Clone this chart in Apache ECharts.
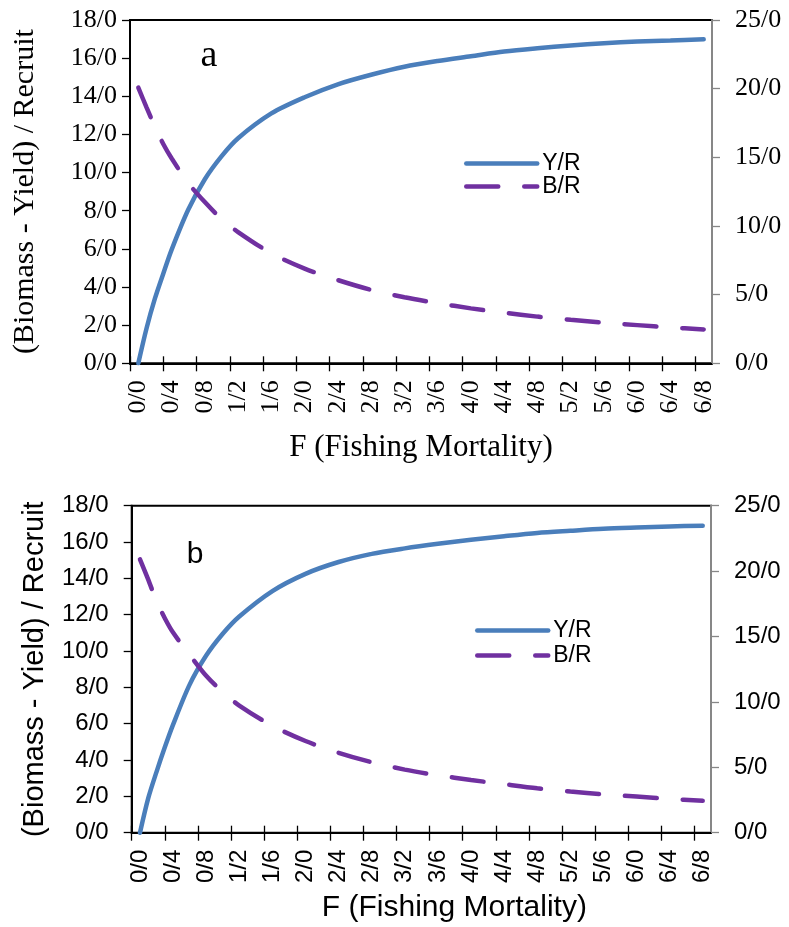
<!DOCTYPE html>
<html><head><meta charset="utf-8">
<script src="https://cdn.jsdelivr.net/npm/echarts@6/dist/echarts.min.js"></script>
<style>html,body{margin:0;padding:0;background:#fff}#c{width:789px;height:927px}</style>
</head><body><div id="c"></div>
<script>
// ---- data ----
const F = [0,0.1,0.2,0.3,0.4,0.6,0.8,1.0,1.2,1.6,2.0,2.4,2.8,3.2,3.6,4.0,4.4,4.8,5.2,5.6,6.0,6.4,6.8];
// panel a
const yieldA   = [0,1.85,3.4,4.7,5.95,8.05,9.65,10.85,11.8,13.1,13.95,14.63,15.13,15.55,15.85,16.1,16.35,16.52,16.66,16.78,16.87,16.93,16.99];
const biomassA = [20.07,18.62,17.22,15.97,14.93,13.13,11.74,10.51,9.56,8.01,6.9,6.06,5.35,4.81,4.38,4.0,3.68,3.4,3.17,2.96,2.78,2.61,2.47];
// panel b
const yieldB   = [0,1.9,3.35,4.7,5.95,8.15,9.75,10.95,11.9,13.3,14.25,14.9,15.35,15.65,15.9,16.12,16.32,16.5,16.62,16.73,16.8,16.86,16.9];
const biomassB = [20.9,19.35,17.7,16.4,15.3,13.6,12.0,10.75,9.72,8.17,7.01,6.11,5.39,4.82,4.39,4.03,3.71,3.4,3.15,2.93,2.76,2.58,2.44];
// tick labels
const xTickValues = [0,0.4,0.8,1.2,1.6,2.0,2.4,2.8,3.2,3.6,4.0,4.4,4.8,5.2,5.6,6.0,6.4,6.8];
const xTickLabels = ['0/0','0/4','0/8','1/2','1/6','2/0','2/4','2/8','3/2','3/6','4/0','4/4','4/8','5/2','5/6','6/0','6/4','6/8'];
const leftLabels  = ['0/0','2/0','4/0','6/0','8/0','10/0','12/0','14/0','16/0','18/0'];
const rightLabels = ['0/0','5/0','10/0','15/0','20/0','25/0'];
const seriesNames = ['Y/R','B/R'];
const panelLetters = ['a','b'];
const xTitle = 'F (Fishing Mortality)';
const yTitle = '(Biomass - Yield) / Recruit';

// ---- layout / style ----
const SERIF = "'Liberation Serif','Times New Roman',serif";
const SANS  = "'Liberation Sans',Arial,sans-serif";
const BLUE = '#4a7ebb', PURPLE = '#7030a0', GRAY = '#878787';
const tickShift = 0.1; // ticks sit between data positions
const tickVals = xTickValues.map(v => +(v - tickShift).toFixed(3));

const panels = [
  {grid:{left:130, top:20, width:582, height:343.3}, font:SERIF, tick:26, xt:31, yt:30,
   yGap:90, xGap:69, xPad:0, lm:13, rm:23, legTop:147, legLeft:459, legGap:0,
   letter:{x:209, y:56, size:38}, yr:yieldA, br:biomassA},
  {grid:{left:131.7, top:505.7, width:579.3, height:327}, font:SANS, tick:24, xt:30, yt:29,
   yGap:82, xGap:60, xPad:66, lm:23, rm:23, legTop:614, legLeft:470, legGap:2,
   letter:{x:195, y:555, size:30}, yr:yieldB, br:biomassB}
];

const xLabelOf = v => { const i = xTickValues.findIndex(t => Math.abs(t - v) < 1e-6); return i >= 0 ? xTickLabels[i] : ''; };

const option = {animation:false, backgroundColor:'#fff', grid:[], xAxis:[], yAxis:[], series:[], legend:[], graphic:[]};

panels.forEach((p, i) => {
  option.grid.push(Object.assign({show:true, borderColor:'#000', borderWidth:2, backgroundColor:'transparent'}, p.grid));
  const txt = {fontFamily:p.font, color:'#000'};
  option.xAxis.push({
    gridIndex:i, type:'value', min:-tickShift, max:6.9, position:'bottom',
    axisLine:{onZero:false, lineStyle:{color:'#000', width:2}},
    axisTick:{customValues:tickVals, length:8, lineStyle:{color:'#000', width:1.3}},
    axisLabel:Object.assign({customValues:xTickValues, rotate:90, margin:17, fontSize:p.tick, formatter:xLabelOf}, txt),
    splitLine:{show:false},
    name:xTitle, nameLocation:'middle', nameGap:p.xGap,
    nameTextStyle:Object.assign({fontSize:p.xt, padding:[0,0,0,p.xPad]}, txt)
  });
  option.xAxis.push({
    gridIndex:i, type:'value', min:-tickShift, max:6.9, position:'bottom', offset:0,
    axisLine:{show:false},
    axisTick:{customValues:tickVals, inside:true, length:7, lineStyle:{color:'#000', width:1.3}},
    axisLabel:{show:false}, splitLine:{show:false}
  });
  option.yAxis.push({
    gridIndex:i, type:'value', min:0, max:18, interval:2, position:'left',
    axisLine:{show:true, onZero:false, lineStyle:{color:'#000', width:2}},
    axisTick:{show:true, length:8, lineStyle:{color:'#000', width:1.3}},
    axisLabel:Object.assign({margin:p.lm, fontSize:p.tick, formatter:v => leftLabels[Math.round(v/2)]}, txt),
    splitLine:{show:false},
    name:yTitle, nameLocation:'middle', nameGap:p.yGap,
    nameTextStyle:Object.assign({fontSize:p.yt}, txt)
  });
  option.yAxis.push({
    gridIndex:i, type:'value', min:0, max:25, interval:5, position:'right',
    axisLine:{show:true, onZero:false, lineStyle:{color:GRAY, width:2}},
    axisTick:{show:true, length:8, lineStyle:{color:GRAY, width:1.3}},
    axisLabel:Object.assign({margin:p.rm, fontSize:p.tick, formatter:v => rightLabels[Math.round(v/5)]}, txt),
    splitLine:{show:false}
  });
  option.series.push({
    name:seriesNames[0], type:'line', xAxisIndex:2*i, yAxisIndex:2*i, symbol:'none', showSymbol:false,
    smooth:0.3,
    lineStyle:{color:BLUE, width:4.5, cap:'round'}, itemStyle:{color:BLUE},
    data:F.map((f, k) => [f, p.yr[k]])
  });
  option.series.push({
    name:seriesNames[1], type:'line', xAxisIndex:2*i, yAxisIndex:2*i+1, symbol:'none', showSymbol:false,
    smooth:0.3,
    lineStyle:{color:PURPLE, width:4.5, type:[32,26], cap:'round'}, itemStyle:{color:PURPLE},
    data:F.map((f, k) => [f, p.br[k]])
  });
  option.legend.push({
    data:seriesNames, orient:'vertical', left:p.legLeft, top:p.legTop,
    itemWidth:71, itemHeight:14, itemGap:p.legGap, selectedMode:false,
    itemStyle:{opacity:0, borderWidth:0},
    lineStyle:{width:4.5, cap:'round'},
    textStyle:{fontFamily:SANS, fontSize:23, color:'#000'}
  });
  option.graphic.push({
    type:'text', x:p.letter.x, y:p.letter.y,
    style:{text:panelLetters[i], fontFamily:p.font, fontSize:p.letter.size, fill:'#000', align:'center', verticalAlign:'middle'}
  });
});

const chart = echarts.init(document.getElementById('c'), null, {renderer:'canvas'});
chart.setOption(option);
</script></body></html>
